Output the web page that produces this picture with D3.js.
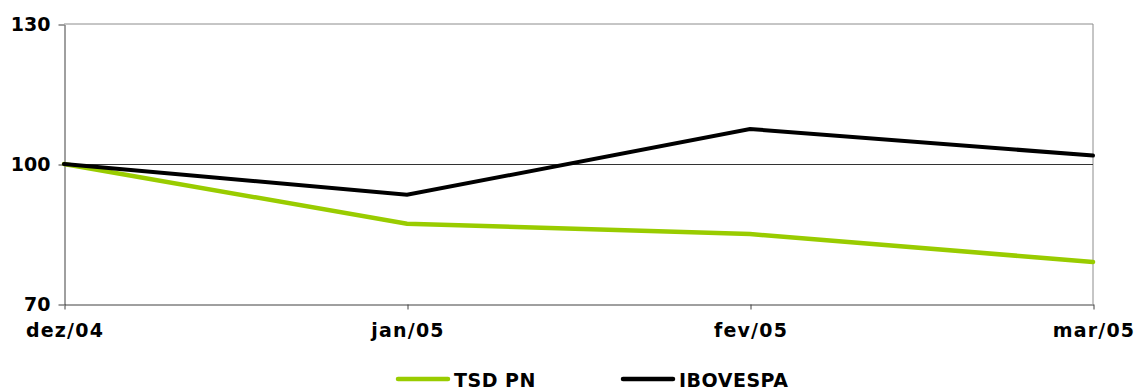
<!DOCTYPE html>
<html>
<head>
<meta charset="utf-8">
<script src="https://cdn.jsdelivr.net/npm/d3@7/dist/d3.min.js"></script>
<style>
  html, body { margin: 0; padding: 0; background: #fff; }
  svg { display: block; font-family: "DejaVu Sans", Verdana, sans-serif; font-weight: bold; }
</style>
</head>
<body>
<div id="chart"></div>
<script>
const categories = ['dez/04', 'jan/05', 'fev/05', 'mar/05'];
const tsdValues = [100, 87.2, 85.0, 79.0];
const ibovValues = [100, 93.4, 107.5, 101.8];
const yTicks = [70, 100, 130];
const seriesNames = ['TSD PN', 'IBOVESPA'];
const seriesColors = ['#99cc00', '#000000'];

const width = 1138;
const height = 387;
const margin = { top: 24, right: 45, bottom: 83, left: 64 };

const svg = d3.select('#chart').append('svg')
  .attr('width', width)
  .attr('height', height);

const x = d3.scalePoint().domain(categories).range([margin.left, width - margin.right]);
const y = d3.scaleLinear().domain([70, 130]).range([height - margin.bottom, margin.top]);

// plot frame (top + right) and gridline at 100
svg.append('path')
  .attr('d', `M${x.range()[0]},${y(130)}H${x.range()[1]}V${y(70)}`)
  .attr('fill', 'none')
  .attr('stroke', '#8c8c8c')
  .attr('stroke-width', 1);

svg.append('g')
  .selectAll('line')
  .data(yTicks.filter((d) => d !== 70 && d !== 130))
  .join('line')
  .attr('x1', x.range()[0])
  .attr('x2', x.range()[1])
  .attr('y1', (d) => Math.round(y(d)) + 0.5)
  .attr('y2', (d) => Math.round(y(d)) + 0.5)
  .attr('stroke', '#333')
  .attr('stroke-width', 1);

const yAxis = svg.append('g')
  .attr('transform', `translate(${margin.left + 0.5},0.5)`)
  .call(d3.axisLeft(y).tickValues(yTicks).tickSize(6).tickPadding(8).tickSizeOuter(0));

const xAxis = svg.append('g')
  .attr('transform', `translate(0.5,${y(70) + 0.5})`)
  .call(d3.axisBottom(x).tickSize(5).tickPadding(14).tickSizeOuter(0));

[yAxis, xAxis].forEach((axis) => {
  axis.select('.domain').attr('stroke', '#404040');
  axis.selectAll('.tick line').attr('stroke', '#404040');
  axis.selectAll('text')
    .attr('fill', '#000')
    .style('font-family', '"DejaVu Sans", Verdana, sans-serif')
    .style('font-weight', 'bold')
    .style('font-size', '19px');
});
xAxis.selectAll('text').style('letter-spacing', '1.2px');

// series
const line = d3.line()
  .x((d, i) => x(categories[i]))
  .y((d) => y(d));

const series = [tsdValues, ibovValues];
svg.append('g')
  .selectAll('path')
  .data(series)
  .join('path')
  .attr('d', (d) => line(d))
  .attr('fill', 'none')
  .attr('stroke', (d, i) => seriesColors[i])
  .attr('stroke-width', (d, i) => (i === 0 ? 4.5 : 4))
  .attr('stroke-linejoin', 'miter')
  .attr('stroke-linecap', 'round');

// legend
const legendX = [398, 623];
const legend = svg.append('g')
  .selectAll('g')
  .data(seriesNames)
  .join('g')
  .attr('transform', (d, i) => `translate(${legendX[i]},379)`);

legend.append('line')
  .attr('x1', 0)
  .attr('x2', 50)
  .attr('stroke', (d, i) => seriesColors[i])
  .attr('stroke-width', 4.5)
  .attr('stroke-linecap', 'round');

legend.append('text')
  .attr('x', 56)
  .attr('y', 8)
  .attr('font-size', 19)
  .style('letter-spacing', '0.5px')
  .text((d) => d);
</script>
</body>
</html>
